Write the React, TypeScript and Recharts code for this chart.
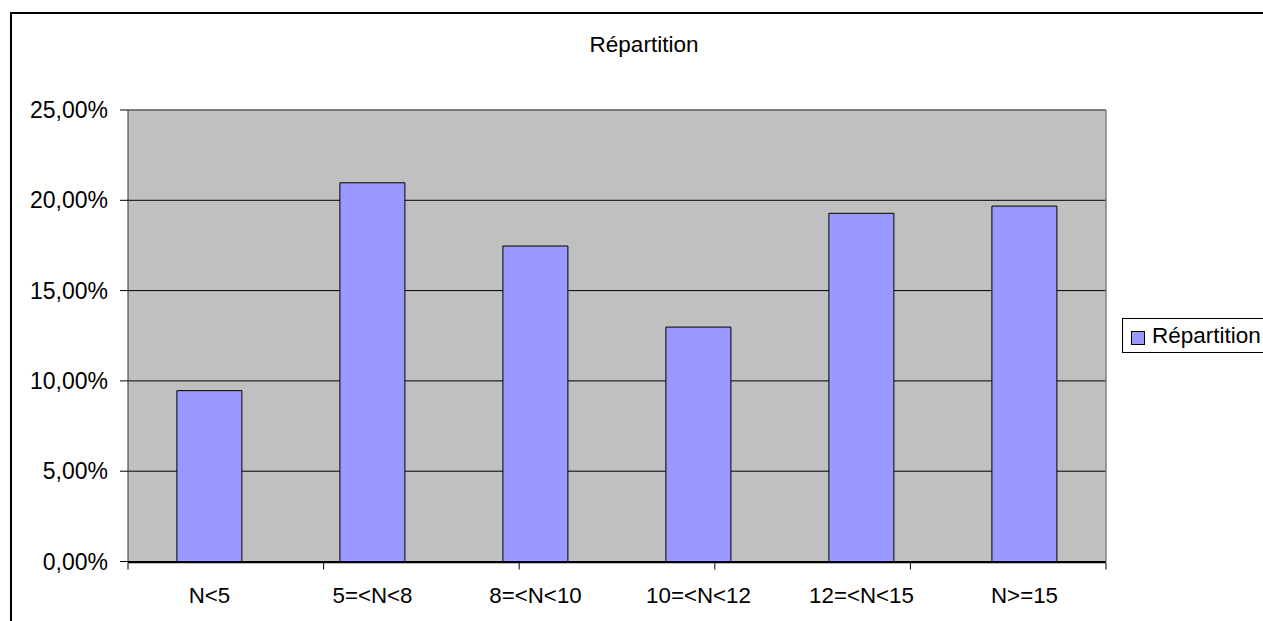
import React from 'react';
import { BarChart, Bar, XAxis, YAxis, CartesianGrid } from 'recharts';

const categories = ['N<5', '5=<N<8', '8=<N<10', '10=<N<12', '12=<N<15', 'N>=15'];
const values = [9.46, 20.97, 17.47, 12.98, 19.28, 19.68];
const yTicks = [0, 5, 10, 15, 20, 25];
const boundaryTicks = [0, 1, 2, 3, 4, 5, 6];
const seriesName = 'Répartition';
const title = 'Répartition';

const data = categories.map((c, i) => ({ cat: c, value: values[i] }));

const FONT = '"Liberation Sans", Arial, sans-serif';
const fmt = (v: number) => v.toFixed(2).replace('.', ',') + '%';

export default function App() {
  return (
    <div
      style={{
        position: 'fixed',
        left: 0,
        top: 0,
        width: 1263,
        height: 621,
        overflow: 'hidden',
        background: '#fff',
        fontFamily: FONT,
      }}
    >
      <div
        style={{
          position: 'absolute',
          left: 10,
          top: 12,
          width: 1290,
          height: 640,
          border: '2px solid #000',
          boxSizing: 'border-box',
        }}
      />
      <div style={{ position: 'absolute', left: 0, top: 0 }}>
        <BarChart
          width={1263}
          height={621}
          data={data}
          margin={{ top: 109, right: 156, bottom: 57.5, left: 127 }}
          barCategoryGap="30%"
        >
          <CartesianGrid vertical={false} fill="#C0C0C0" fillOpacity={1} stroke="#000" strokeWidth={1} />
          <XAxis
            xAxisId="b"
            type="number"
            domain={[0, 6]}
            ticks={boundaryTicks}
            allowDataOverflow
            height={1}
            tickSize={7}
            tickFormatter={() => ''}
            axisLine={{ stroke: '#000', strokeWidth: 1.5 }}
            tickLine={{ stroke: '#000' }}
          />
          <XAxis
            dataKey="cat"
            height={1}
            interval={0}
            tickLine={false}
            axisLine={false}
            tickSize={0}
            tickMargin={26}
            tick={{ fontSize: 22.3, fill: '#000', fontFamily: FONT }}
          />
          <XAxis
            xAxisId="t"
            orientation="top"
            type="number"
            domain={[0, 1]}
            allowDataOverflow
            height={1}
            tick={false}
            tickLine={false}
            axisLine={{ stroke: '#808080', strokeWidth: 1.5 }}
          />
          <YAxis
            domain={[0, 25]}
            ticks={yTicks}
            interval={0}
            width={1}
            tickSize={8}
            tickMargin={12}
            tickFormatter={fmt}
            tick={{ fontSize: 23, fill: '#000', fontFamily: FONT }}
            axisLine={{ stroke: '#333' }}
            tickLine={{ stroke: '#000' }}
          />
          <YAxis
            yAxisId="r"
            orientation="right"
            type="number"
            domain={[0, 1]}
            allowDataOverflow
            width={1}
            tick={false}
            tickLine={false}
            axisLine={{ stroke: '#808080', strokeWidth: 1.5 }}
          />
          <Bar dataKey="value" name={seriesName} fill="#9999FF" stroke="#000" strokeWidth={1} isAnimationActive={false} />
        </BarChart>
      </div>
      <div
        style={{
          position: 'absolute',
          left: 544,
          width: 200,
          top: 34,
          textAlign: 'center',
          fontSize: 22.5,
          lineHeight: 1,
          color: '#000',
        }}
      >
        {title}
      </div>
      <div
        style={{
          position: 'absolute',
          left: 1122,
          top: 318,
          width: 170,
          height: 35,
          border: '1px solid #000',
          boxSizing: 'border-box',
          background: '#fff',
        }}
      >
        <div
          style={{
            position: 'absolute',
            left: 8,
            top: 12,
            width: 14,
            height: 14,
            border: '1px solid #000',
            boxSizing: 'border-box',
            background: '#9999FF',
          }}
        />
        <div
          style={{
            position: 'absolute',
            left: 29,
            top: 6,
            fontSize: 22.5,
            lineHeight: 1,
            color: '#000',
            whiteSpace: 'nowrap',
          }}
        >
          {seriesName}
        </div>
      </div>
    </div>
  );
}
